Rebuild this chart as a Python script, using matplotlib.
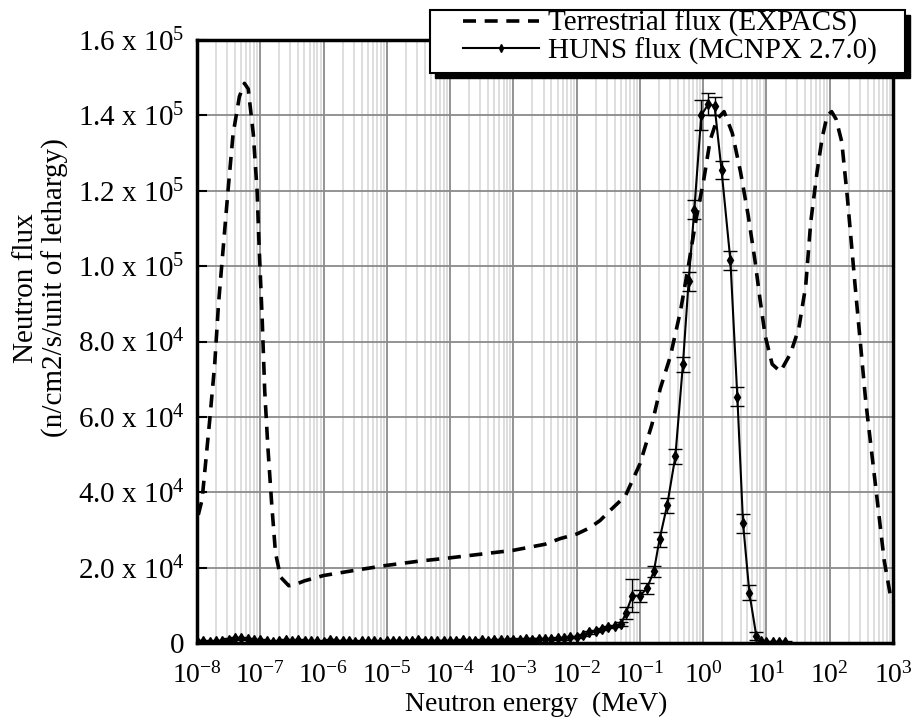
import numpy as np
import matplotlib
matplotlib.use('Agg')
import matplotlib.pyplot as plt
from matplotlib.lines import Line2D
from matplotlib.patches import Rectangle
from matplotlib.ticker import FixedLocator, NullFormatter

plt.rcParams['font.family'] = ['Liberation Serif', 'DejaVu Serif']
plt.rcParams['mathtext.fontset'] = 'custom'
plt.rcParams['mathtext.rm'] = 'Liberation Serif'
plt.rcParams['mathtext.it'] = 'Liberation Serif:italic'
plt.rcParams['mathtext.bf'] = 'Liberation Serif:bold'

# ---- data (log10 of energy in MeV, flux in 1e3 n/cm2/s/lethargy) ----
expacs_loge = [-7.98, -7.92, -7.80, -7.72, -7.66, -7.59, -7.51, -7.43, -7.33, -7.25,
               -7.19, -7.11, -7.05, -7.02, -6.97, -6.93, -6.88, -6.82, -6.76, -6.68,
               -6.55, -6.45, -6.30, -6.0, -5.5, -5.0, -4.5, -4.0, -3.5, -3.0,
               -2.5, -2.26, -2.0, -1.8, -1.63, -1.45, -1.23, -1.0, -0.81, -0.68,
               -0.52, -0.36, -0.23, -0.12, 0.01, 0.11, 0.22, 0.33, 0.46, 0.59,
               0.71, 0.82, 0.90, 0.98, 1.09, 1.22, 1.38, 1.51, 1.62, 1.70,
               1.80, 1.88, 1.96, 2.03, 2.10, 2.19, 2.28, 2.40, 2.57, 2.75,
               2.86, 2.96, 3.0]
expacs_flux = [34, 38, 59, 74, 90, 104, 120, 135, 145, 148.5,
               147, 135, 120, 106, 86, 67, 52, 37, 24, 17.5,
               15.2, 15.5, 16.5, 17.9, 19.3, 20.6, 21.7, 22.6, 23.6, 24.6,
               26.2, 27.7, 28.9, 30.5, 32.5, 35.5, 39, 47.5, 58, 67.4,
               76, 88, 100.4, 111.7, 123, 133.4, 139, 141, 135.3, 125,
               113.6, 101.3, 91, 81.5, 74, 72, 76.8, 83.4, 94.7, 111.7,
               125, 134, 140, 141, 139, 133, 118, 95, 64, 38,
               22, 12.5, 11]

huns_loge = [-8.0, -7.9, -7.8, -7.7, -7.6, -7.5, -7.4, -7.3, -7.2, -7.1,
             -7.0, -6.9, -6.8, -6.7, -6.6, -6.5, -6.4, -6.3, -6.2, -6.1,
             -6.0, -5.9, -5.8, -5.7, -5.6, -5.5, -5.4, -5.3, -5.2, -5.1,
             -5.0, -4.9, -4.8, -4.7, -4.6, -4.5, -4.4, -4.3, -4.2, -4.1,
             -4.0, -3.9, -3.8, -3.7, -3.6, -3.5, -3.4, -3.3, -3.2, -3.1,
             -3.0, -2.9, -2.8, -2.7, -2.6, -2.5, -2.4, -2.3, -2.2, -2.1,
             -2.0, -1.9, -1.8, -1.7, -1.6, -1.5, -1.4, -1.3, -1.22, -1.12,
             -1.0, -0.89, -0.78, -0.69, -0.57, -0.44, -0.32, -0.23, -0.14, -0.03,
             0.08, 0.18, 0.29, 0.43, 0.54, 0.63, 0.73, 0.84, 0.92, 1.0,
             1.1, 1.2, 1.3]
huns_flux = [0.5, 0.4, 0.3, 0.5, 0.6, 0.9, 1.2, 1.4, 1.0, 0.8,
             0.7, 0.4, 0.3, 0.5, 0.7, 0.6, 0.8, 0.5, 0.4, 0.6,
             0.3, 0.7, 0.5, 0.4, 0.5, 0.3, 0.4, 0.5, 0.4, 0.3,
             0.4, 0.5, 0.6, 0.5, 0.4, 0.7, 0.5, 0.6, 0.5, 0.6,
             0.5, 0.6, 0.7, 0.6, 0.5, 0.7, 0.6, 0.8, 0.7, 0.8,
             0.9, 0.8, 1.0, 0.9, 1.1, 1.0, 1.1, 1.3, 1.2, 1.5,
             1.6, 2.2, 2.8, 3.2, 3.7, 4.2, 4.5, 5.0, 8.0, 12.6,
             12.5, 14.5, 19, 27.5, 36.5, 49.5, 74, 96, 115, 140,
             143, 142.5, 125.5, 101.5, 65.3, 31.8, 13.3, 1.8, 0.6, 0.3,
             0.2, 0.3, 0.2]
huns_err = [0.3] * 67 + [0.5, 1.5, 4.5,
            1.5, 1.5, 1.5, 2, 2, 2, 2, 2.5, 2.5, 4,
            3, 2.5, 2.5, 2.5, 2.5, 2.5, 2, 1, 0.3, 0.3,
            0.3, 0.3, 0.3]

ytick_vals = [0, 2e4, 4e4, 6e4, 8e4, 1e5, 1.2e5, 1.4e5, 1.6e5]
ytick_labels = ['0', '2.0 x 10$^{4}$', '4.0 x 10$^{4}$', '6.0 x 10$^{4}$', '8.0 x 10$^{4}$',
                '1.0 x 10$^{5}$', '1.2 x 10$^{5}$', '1.4 x 10$^{5}$', '1.6 x 10$^{5}$']
xtick_exps = [-8, -7, -6, -5, -4, -3, -2, -1, 0, 1, 2, 3]
legend_labels = ['Terrestrial flux (EXPACS)', 'HUNS flux (MCNPX 2.7.0)']

W, H = 922, 722
fig = plt.figure(figsize=(W / 100, H / 100), dpi=100)
ax = fig.add_axes([197 / W, 79 / H, 696 / W, 603 / H])

ex = 10.0 ** np.array(expacs_loge)
ey = np.array(expacs_flux) * 1e3
hx = 10.0 ** np.array(huns_loge)
hy = np.array(huns_flux) * 1e3
he = np.array(huns_err) * 1e3

DASH = (3.6, 2.4)
ax.plot(ex, ey, color='black', lw=2.6, dashes=DASH, zorder=3)
ax.errorbar(hx, hy, yerr=he, color='black', lw=1.5, marker='d', ms=5.5,
            elinewidth=1.0, capsize=5, capthick=1.0, zorder=4)

ax.set_xscale('log')
ax.set_xlim(1e-8, 1e3)
ax.set_ylim(0, 1.6e5)

# grid: dark decades, light minor lines
ax.set_axisbelow(True)
ax.xaxis.set_major_locator(FixedLocator([10.0 ** e for e in xtick_exps]))
minor = [m * 10.0 ** e for e in xtick_exps[:-1] for m in range(2, 10)]
ax.xaxis.set_minor_locator(FixedLocator(minor))
ax.xaxis.set_minor_formatter(NullFormatter())
ax.grid(which='major', axis='both', color='#8a8a8a', lw=1.3)
ax.grid(which='minor', axis='x', color='#d4d4d4', lw=1.1)

ax.set_xticks([10.0 ** e for e in xtick_exps])
ax.set_xticklabels(['10$^{%d}$' % e for e in xtick_exps], fontsize=20)
ax.set_yticks(ytick_vals)
ax.set_yticklabels(ytick_labels, fontsize=21)
ax.tick_params(axis='x', which='both', length=0, pad=14)
ax.tick_params(axis='y', which='major', direction='in', length=7, width=1.5, pad=9)

for s in ax.spines.values():
    s.set_linewidth(2.5)

fig.text(536 / W, 1 - 704 / H, 'Neutron energy  (MeV)', ha='center', va='center', fontsize=20)
fig.text(41 / W, 1 - 288 / H, 'Neutron flux\n(n/cm2/s/unit of lethargy)', ha='center',
         va='center', rotation=90, fontsize=21, multialignment='center', linespacing=1.15)

# legend box with solid shadow, drawn by hand
fig.add_artist(Rectangle((435 / W, 1 - 78 / H), 475 / W, 63 / H, transform=fig.transFigure,
                         facecolor='black', edgecolor='black', zorder=5))
fig.add_artist(Rectangle((430 / W, 1 - 73 / H), 475 / W, 63 / H, transform=fig.transFigure,
                         facecolor='white', edgecolor='black', lw=1.5, zorder=6))
handles = [Line2D([], [], color='black', lw=2.6, dashes=DASH),
           Line2D([], [], color='black', lw=1.5, marker='d', ms=4)]
leg = fig.legend(handles, legend_labels, loc='upper left',
                 bbox_to_anchor=(463 / W, 1 - 10 / H), bbox_transform=fig.transFigure,
                 borderaxespad=0, borderpad=0, fontsize=21, handlelength=2.6,
                 handletextpad=0.3, labelspacing=0.0, frameon=False)
leg.set_zorder(7)

fig.savefig('out.png', dpi=100)
